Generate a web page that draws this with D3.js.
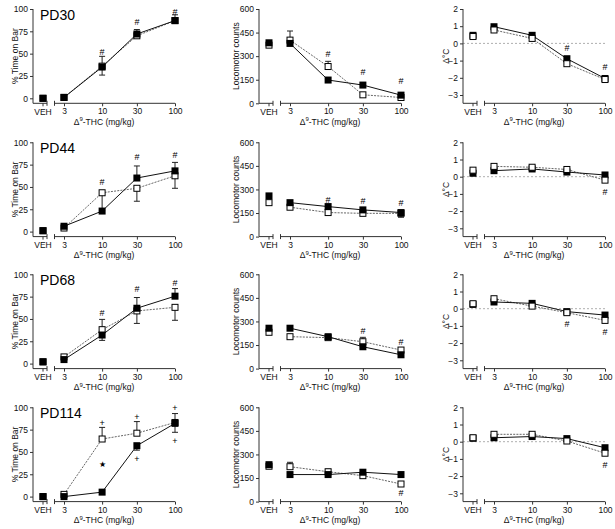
<!DOCTYPE html>
<html><head><meta charset="utf-8">
<script src="https://cdn.jsdelivr.net/npm/d3@7"></script>
<style>
body{margin:0;background:#fff;}
svg{display:block;font-family:"Liberation Sans",Arial,sans-serif;}
</style></head><body>
<svg id="c" width="615" height="529"></svg>
<script>
const doseLabels = ["VEH","3","10","30","100"];
const doseValues = [null,3,10,30,100];
const ageLabels = ["PD30","PD44","PD68","PD114"];
const timeTicks = [0,25,50,75,100];
const locoTicks = [0,150,300,450,600];
const tempTicks = [-3,-2,-1,0,1,2];

// % Time on Bar, per age: [VEH,3,10,30,100]
const timeFilled = [[0,1,35,72,87],[1,6,23,60,68],[2,4.5,32,62,75.5],[0,0,5,57,82]];
const timeOpen   = [[0,1,36,70,87],[1,4,43.5,48.5,62.5],[2,7.5,38,59,63],[0,2.5,64.5,71,83]];
// error bars [down, up]
const timeFilledErr = [
  [[0,0],[0,0],[9,12],[0,5],[0,6.5]],
  [[0,0],[0,0],[0,0],[0,13.5],[0,9.5]],
  [[0,0],[0,0],[6,0],[0,12],[0,8.5]],
  [[0,0],[0,0],[0,0],[5,0],[10,0]]
];
const timeOpenErr = [
  [[0,0],[0,0],[0,0],[0,0],[0,0]],
  [[0,0],[0,0],[20,0],[14.5,0],[14,0]],
  [[0,0],[0,0],[0,11.5],[14,0],[14.5,0]],
  [[0,0],[0,0],[0,13],[0,13],[0,10]]
];

// Locomotor counts
const locoFilled = [[385,381,148,116,52],[259,216,191,170,153],[257,257,203,139,88],[235,172,172,187,172]];
const locoOpen   = [[370,402,234,54,37],[216,187,153,148,148],[231,203,197,171,118],[225,222,190,165,112]];
const locoFilledErr = [
  [[0,0],[0,0],[0,0],[0,0],[0,0]],
  [[0,0],[0,0],[0,0],[0,0],[0,0]],
  [[0,0],[0,0],[0,0],[0,0],[0,0]],
  [[0,0],[0,0],[0,0],[0,0],[0,0]]
];
const locoOpenErr = [
  [[0,0],[0,58],[0,33],[0,0],[0,0]],
  [[0,0],[0,0],[0,0],[0,0],[25,0]],
  [[0,0],[0,0],[0,0],[0,28],[0,0]],
  [[0,0],[0,28],[0,15],[0,0],[0,0]]
];

// Delta body temperature (°C)
const tempFilled = [[0.47,0.97,0.47,-0.89,-2.04],[0.2,0.35,0.45,0.27,0.1],[0.25,0.39,0.31,-0.17,-0.37],[0.2,0.23,0.3,0.18,-0.35]];
const tempOpen   = [[0.4,0.78,0.29,-1.18,-2.1],[0.38,0.6,0.55,0.42,-0.2],[0.29,0.58,0.15,-0.23,-0.68],[0.23,0.43,0.43,0.04,-0.67]];
const tempFilledErr = [
  [[0,0],[0,0],[0,0],[0,0],[0,0]],
  [[0,0],[0,0],[0,0],[0,0],[0,0]],
  [[0,0],[0,0],[0,0],[0,0],[0,0]],
  [[0,0],[0,0],[0,0],[0,0],[0,0]]
];
const tempOpenErr = tempFilledErr;

// significance marks: [dose index, y value, symbol]
const timeMarks = [
  [[2,52,"#"],[3,86,"#"],[4,97,"#"]],
  [[2,56,"#"],[3,84,"#"],[4,86,"#"]],
  [[2,57,"#"],[3,83.5,"#"],[4,90.6,"#"]],
  [[2,83,"+"],[3,89.5,"+"],[4,99.6,"+"],[3,42,"+"],[4,62,"+"],[2,37,"★"]]
];
const locoMarks = [
  [[2,316,"#"],[3,198,"#"],[4,144,"#"]],
  [[2,237,"#"],[3,229,"#"],[4,216,"#"]],
  [[3,238,"#"],[4,171,"#"]],
  [[4,57,"#"]]
];
const tempMarks = [
  [[3,-0.25,"#"],[4,-1.34,"#"]],
  [[4,-0.85,"#"]],
  [[3,-0.87,"#"],[4,-1.34,"#"]],
  [[4,-1.33,"#"]]
];

const svg = d3.select("#c");
const rowTops = [9, 142.3, 274.3, 407.3];
const H = 94.3;

const cols = [
  {x0:33, domain:[0,100], zeroOff:5, ticks:timeTicks, title:"% Time on Bar", tx:15,
   filled:timeFilled, open:timeOpen, fErr:timeFilledErr, oErr:timeOpenErr, marks:timeMarks, openTop:false},
  {x0:259, domain:[0,600], zeroOff:0, ticks:locoTicks, title:"Locomotor counts", tx:20,
   filled:locoFilled, open:locoOpen, fErr:locoFilledErr, oErr:locoOpenErr, marks:locoMarks, openTop:false},
  {x0:463, domain:[-3,2], zeroOff:8.3, ticks:tempTicks, title:"Δ°C", tx:14, zeroLine:true,
   filled:tempFilled, open:tempOpen, fErr:tempFilledErr, oErr:tempOpenErr, marks:tempMarks, openTop:true}
];

const TXT = "#111";
rowTops.forEach((top, r) => {
  const axisY = top + H;
  cols.forEach((c, ci) => {
    const g = svg.append("g");
    const x0 = c.x0;
    const y = d3.scaleLinear().domain(c.domain).range([axisY - c.zeroOff, top]);
    const xl = d3.scaleLog().domain([3,100]).range([x0+31, x0+142]);
    const vehX = x0 + 10;
    const xi = i => i === 0 ? vehX : xl(doseValues[i]);

    if (c.zeroLine) {
      g.append("line").attr("x1", x0).attr("x2", x0+142)
        .attr("y1", y(0)).attr("y2", y(0))
        .attr("stroke", "#999").attr("stroke-width", 0.8).attr("stroke-dasharray", "2,2");
    }

    const ya = g.append("g").attr("transform", `translate(${x0},0)`)
      .call(d3.axisLeft(y).tickValues(c.ticks).tickSize(3).tickPadding(2).tickFormat(d3.format("d")));
    ya.select(".domain").remove();
    ya.selectAll("line").attr("stroke", "#333");
    ya.selectAll("text").attr("font-size", 8.5).attr("fill", TXT).attr("font-family", "Liberation Sans, Arial, sans-serif");
    g.append("line").attr("x1", x0).attr("x2", x0).attr("y1", top).attr("y2", axisY).attr("stroke", "#333");

    g.append("line").attr("x1", x0).attr("x2", x0+14).attr("y1", axisY).attr("y2", axisY).attr("stroke", "#333");
    g.append("line").attr("x1", x0+21.5).attr("x2", x0+142).attr("y1", axisY).attr("y2", axisY).attr("stroke", "#333");
    [x0+14, x0+21.5].forEach(bx => g.append("line").attr("x1", bx).attr("x2", bx)
      .attr("y1", axisY-2.5).attr("y2", axisY+2.5).attr("stroke", "#333"));
    const xa = g.append("g").attr("transform", `translate(0,${axisY})`)
      .call(d3.axisBottom(xl).tickValues([3,10,30,100]).tickSize(3).tickPadding(2).tickFormat(d3.format("d")));
    xa.select(".domain").remove();
    xa.selectAll("line").attr("stroke", "#333");
    xa.selectAll("text").attr("font-size", 8.5).attr("fill", TXT).attr("font-family", "Liberation Sans, Arial, sans-serif");
    g.append("line").attr("x1", vehX).attr("x2", vehX).attr("y1", axisY).attr("y2", axisY+3).attr("stroke", "#333");
    g.append("text").attr("x", vehX).attr("y", axisY+11.5).attr("text-anchor", "middle")
      .attr("font-size", 8.5).attr("fill", TXT).text(doseLabels[0]);

    const xt = g.append("text").attr("x", x0+71).attr("y", axisY+21.5).attr("text-anchor", "middle")
      .attr("font-size", 8.5).attr("fill", TXT);
    xt.append("tspan").text("Δ");
    xt.append("tspan").attr("dy", -3.5).attr("font-size", 6).text("9");
    xt.append("tspan").attr("dy", 3.5).text("-THC (mg/kg)");

    g.append("text").attr("transform", `translate(${x0 - c.tx},${(top+axisY)/2}) rotate(-90)`)
      .attr("text-anchor", "middle").attr("font-size", 8.5).attr("fill", TXT).text(c.title);

    if (ci === 0) {
      g.append("text").attr("x", x0+7).attr("y", top+11).attr("font-size", 14).attr("fill", "#000").text(ageLabels[r]);
    }

    const fv = c.filled[r], ov = c.open[r];
    const line = d3.line().x((d,i) => xi(i+1)).y(d => y(d));
    g.append("path").datum(ov.slice(1)).attr("d", line).attr("fill", "none")
      .attr("stroke", "#555").attr("stroke-width", 0.9).attr("stroke-dasharray", "2,1.2");
    g.append("path").datum(fv.slice(1)).attr("d", line).attr("fill", "none")
      .attr("stroke", "#111").attr("stroke-width", 1);

    function errs(vals, ev) {
      vals.forEach((v, i) => {
        const [dn, up] = ev[i];
        const xx = xi(i);
        [[up, 1], [dn, -1]].forEach(([e, s]) => {
          if (!e) return;
          const ye = y(v + s*e);
          g.append("line").attr("x1", xx).attr("x2", xx).attr("y1", y(v)).attr("y2", ye).attr("stroke", "#222");
          g.append("line").attr("x1", xx-3).attr("x2", xx+3).attr("y1", ye).attr("y2", ye).attr("stroke", "#222");
        });
      });
    }
    errs(fv, c.fErr[r]);
    errs(ov, c.oErr[r]);

    function marks(vals, open) {
      vals.forEach((v, i) => {
        g.append("rect").attr("x", xi(i)-3.5+(open?0.5:0)).attr("y", y(v)-3.5+(open?0.5:0))
          .attr("width", open?6:7).attr("height", open?6:7)
          .attr("fill", open ? "#fff" : "#000")
          .attr("stroke", open ? "#000" : "none").attr("stroke-width", 1);
      });
    }
    if (c.openTop) { marks(fv, false); marks(ov, true); }
    else { marks(ov, true); marks(fv, false); }

    c.marks[r].forEach(([i, v, s]) => {
      g.append("text").attr("x", xi(i)).attr("y", y(v)+3.2).attr("text-anchor", "middle")
        .attr("font-size", s === "★" ? 8 : 9).attr("fill", "#000")
        .style("-webkit-font-smoothing", "grayscale").text(s);
    });
  });
});
</script>
</body></html>
